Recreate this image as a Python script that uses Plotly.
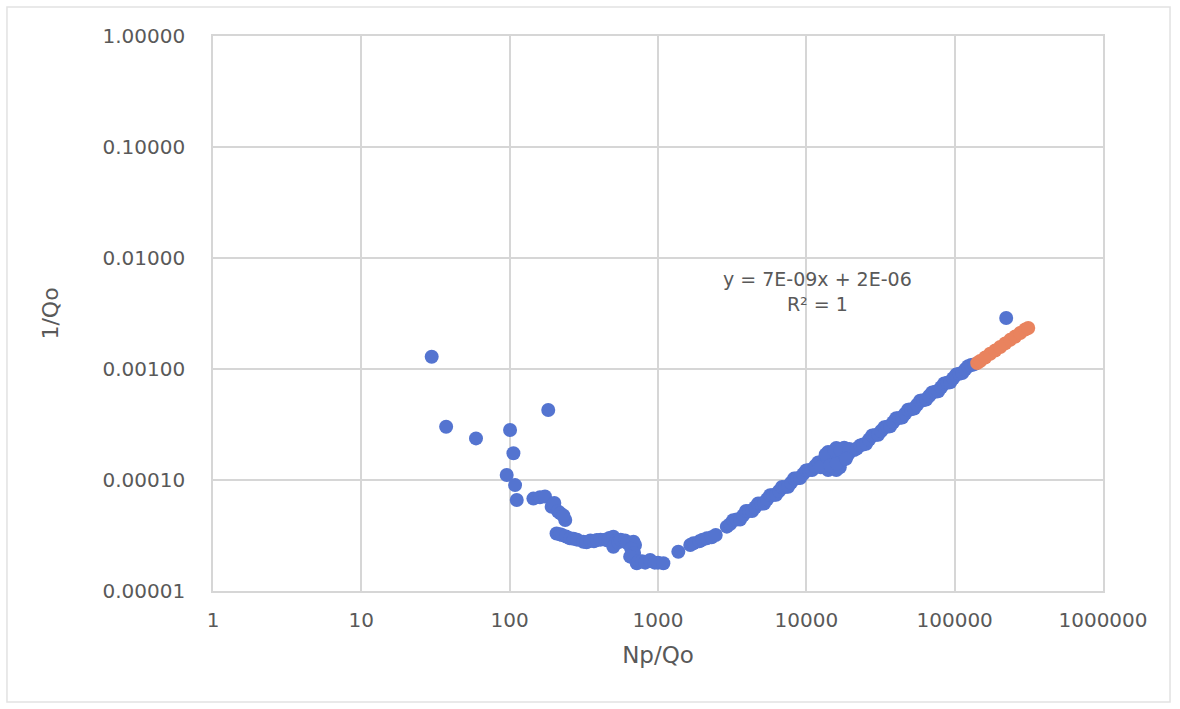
import plotly.graph_objects as go

# ---- data ----
blue_x = [
    # early scattered points
    29.8, 37.3, 59.3, 100.6, 106, 182, 95.5, 108.7, 111.6, 144.5, 160, 173, 192, 200, 212,
    220, 237, 230,
    # trough
    207, 218, 225, 240, 255, 270, 285, 314, 330, 350, 370, 387, 410, 440, 460, 470, 500,
    520, 500, 540, 560, 600, 620, 683, 700, 660, 690, 649, 719, 740, 780, 820,
    885, 950, 1000, 1087, 1371, 1650, 1734, 1900, 2000, 2133, 2300, 2450, 2910,
    # rising band
    3060, 3210, 3390, 3578, 3750, 3926, 4115, 4313, 4520, 4732, 4955, 5190, 5440, 5702,
    5970, 6252, 6545, 6855, 7185, 7535, 7890, 8260, 8660, 9078, 9515, 9970, 10445, 10940,
    11470, 12020, 12590, 13180,
    # blob
    14030, 15920, 17990, 14030, 15920, 15000, 17460, 16500, 12500, 19140, 20990, 18000,
    13800, 16800, 13500, 15500, 17000, 19500, 14500, 16000, 18500,
    # upper band
    21900, 23070, 24150, 25290, 26520, 27800, 29110, 30480, 31950, 33500, 35080, 36730,
    38500, 40360, 42270, 44260, 46350, 48530, 50870, 53330, 55850, 58480, 61300, 64270,
    67300, 70470, 73880, 77450, 81100, 84920, 89030, 93330, 97700, 102300, 107300, 112500,
    117800, 123300, 129100, 135200,
    # outlier
    222500,
]
blue_y = [
    1.29e-3, 3.02e-4, 2.37e-4, 2.82e-4, 1.74e-4, 4.27e-4, 1.11e-4, 9.0e-5, 6.6e-5, 6.8e-5,
    7.0e-5, 7.1e-5, 5.75e-5, 6.2e-5, 5.2e-5,
    5.0e-5, 4.36e-5, 4.8e-5,
    3.3e-5, 3.25e-5, 3.2e-5, 3.1e-5, 2.98e-5, 2.95e-5, 2.9e-5, 2.78e-5, 2.75e-5, 2.85e-5,
    2.8e-5, 2.88e-5, 2.9e-5, 2.9e-5, 2.85e-5, 3.0e-5, 3.08e-5,
    2.8e-5, 2.5e-5, 2.75e-5, 2.9e-5, 2.85e-5, 2.7e-5, 2.78e-5, 2.6e-5, 2.4e-5, 2.2e-5,
    2.04e-5, 1.78e-5, 1.85e-5, 1.85e-5, 1.8e-5,
    1.9e-5, 1.8e-5, 1.8e-5, 1.78e-5, 2.26e-5, 2.6e-5, 2.69e-5, 2.8e-5, 2.9e-5, 2.98e-5,
    3.05e-5, 3.2e-5, 3.8e-5,
    4.0e-5, 4.35e-5, 4.4e-5, 4.4e-5, 4.8e-5, 5.25e-5, 5.26e-5, 5.25e-5, 5.68e-5, 6.15e-5,
    6.14e-5, 6.15e-5, 6.7e-5, 7.3e-5,
    7.33e-5, 7.35e-5, 7.96e-5, 8.65e-5, 8.65e-5, 8.7e-5, 9.45e-5, 1.03e-4, 1.037e-4,
    1.04e-4, 1.13e-4, 1.22e-4, 1.23e-4, 1.23e-4,
    1.335e-4, 1.44e-4, 1.45e-4, 1.45e-4,
    1.79e-4, 1.94e-4, 1.79e-4, 1.23e-4, 1.23e-4, 1.45e-4, 1.5e-4, 1.65e-4, 1.3e-4, 1.7e-4,
    1.86e-4, 1.95e-4, 1.6e-4, 1.3e-4, 1.7e-4, 1.85e-4, 1.85e-4, 1.9e-4, 1.35e-4, 1.4e-4,
    1.55e-4,
    1.92e-4, 2.05e-4, 2.09e-4, 2.12e-4, 2.32e-4, 2.52e-4, 2.54e-4, 2.56e-4, 2.76e-4,
    2.98e-4, 3.02e-4, 3.05e-4,
    3.31e-4, 3.6e-4, 3.62e-4, 3.65e-4, 3.95e-4, 4.3e-4, 4.34e-4, 4.4e-4, 4.77e-4, 5.18e-4,
    5.23e-4, 5.3e-4,
    5.71e-4, 6.15e-4, 6.23e-4, 6.3e-4, 6.85e-4, 7.42e-4, 7.52e-4, 7.6e-4, 8.25e-4, 8.9e-4,
    9.06e-4, 9.2e-4,
    9.93e-4, 1.06e-3, 1.085e-3, 1.1e-3,
    2.88e-3,
]

orange_x = [141900, 148600, 160600, 173500, 187600, 202800, 219200, 236700, 255900,
            276600, 298700, 313300]
orange_y = [1.13e-3, 1.18e-3, 1.27e-3, 1.37e-3, 1.47e-3, 1.58e-3, 1.70e-3, 1.83e-3,
            1.96e-3, 2.11e-3, 2.27e-3, 2.34e-3]

x_tickvals = [1, 10, 100, 1000, 10000, 100000, 1000000]
x_ticktext = ["1", "10", "100", "1000", "10000", "100000", "1000000"]
y_tickvals = [1e-5, 1e-4, 1e-3, 1e-2, 1e-1, 1]
y_ticktext = ["0.00001", "0.00010", "0.00100", "0.01000", "0.10000", "1.00000"]

equation_text = "y = 7E-09x + 2E-06<br>R² = 1"

# ---- figure ----
FONT = "DejaVu Sans"
TXT = "#595959"
GRID = "#d6d6d6"

fig = go.Figure()
fig.add_trace(go.Scatter(
    x=blue_x, y=blue_y, mode="markers",
    marker=dict(size=14, color="#5474d0", line=dict(width=0)),
    showlegend=False,
))
fig.add_trace(go.Scatter(
    x=orange_x, y=orange_y, mode="markers",
    marker=dict(size=14, color="#e9835e", line=dict(width=0)),
    showlegend=False,
))

fig.add_annotation(
    text=equation_text, xref="paper", yref="paper",
    x=0.679, y=0.54, xanchor="center", yanchor="middle",
    showarrow=False, align="center",
    font=dict(family=FONT, size=19, color=TXT),
)

fig.add_shape(
    type="rect", xref="paper", yref="paper",
    x0=-0.2315, x1=1.0753, y0=-0.2, y1=1.0523,
    line=dict(color="#e2e2e2", width=1.5), layer="below",
)

fig.update_xaxes(
    type="log", range=[0, 6],
    tickvals=x_tickvals, ticktext=x_ticktext,
    showgrid=True, gridcolor=GRID, gridwidth=1.5,
    showline=True, linecolor=GRID, linewidth=1.5, mirror=True,
    zeroline=False, ticks="", ticklabelstandoff=10,
    tickfont=dict(family=FONT, size=20, color=TXT),
    title=dict(text="Np/Qo", font=dict(family=FONT, size=23, color=TXT), standoff=16),
)
fig.update_yaxes(
    type="log", range=[-5, 0],
    tickvals=y_tickvals, ticktext=y_ticktext,
    showgrid=True, gridcolor=GRID, gridwidth=1.5,
    showline=True, linecolor=GRID, linewidth=1.5, mirror=True,
    zeroline=False, ticks="", ticklabelstandoff=22,
    tickfont=dict(family=FONT, size=20, color=TXT),
    title=dict(text="1/Qo", font=dict(family=FONT, size=22, color=TXT), standoff=38),
)

fig.update_layout(
    width=1180, height=709,
    margin=dict(l=213, r=77, t=36, b=118, autoexpand=False),
    paper_bgcolor="white", plot_bgcolor="white",
    font=dict(family=FONT, color=TXT),
)

fig.write_html("out.html")
